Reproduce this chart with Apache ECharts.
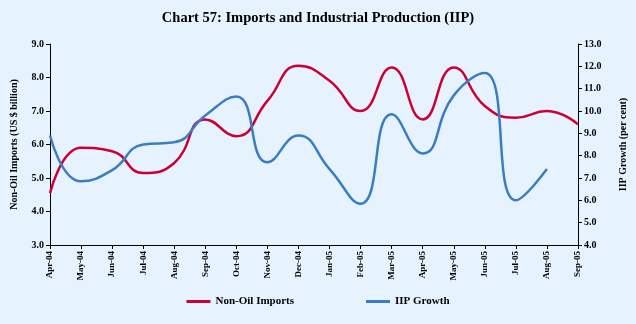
<!DOCTYPE html>
<html><head><meta charset="utf-8">
<script src="https://cdn.jsdelivr.net/npm/echarts@6/dist/echarts.min.js"></script>
<style>html,body{margin:0;padding:0;background:#e6f2fe;}#c{width:636px;height:324px;}</style>
</head><body><div id="c"></div>
<script>
const categories = ["Apr-04","May-04","Jun-04","Jul-04","Aug-04","Sep-04","Oct-04","Nov-04","Dec-04","Jan-05","Feb-05","Mar-05","Apr-05","May-05","Jun-05","Jul-05","Aug-05","Sep-05"];
const nonOilImports = [4.55,5.9,5.8,5.15,5.45,6.75,6.25,7.3,8.35,7.9,7.0,8.3,6.75,8.3,7.15,6.8,7.0,6.6];
const iipGrowth = [8.9,6.85,7.35,8.5,8.6,9.8,10.65,7.7,8.9,7.4,5.85,9.85,8.1,10.7,11.7,6.0,7.4,null];
const leftTicks = {min:3, max:9, interval:1};
const rightTicks = {min:4, max:13, interval:1};

const font = "Liberation Serif";
const chart = echarts.init(document.getElementById('c'));
chart.setOption({
  backgroundColor:'#e6f2fe',
  animation:false,
  title:{text:'Chart 57: Imports and Industrial Production (IIP)',left:'center',top:6,
    textStyle:{fontFamily:font,fontSize:14.5,fontWeight:'bold',color:'#000'}},
  grid:{left:50,right:56,top:44,bottom:79},
  legend:{bottom:12,left:'center',itemGap:72,itemWidth:24,itemHeight:3,icon:'rect',
    textStyle:{fontFamily:font,fontSize:11,fontWeight:'bold',color:'#000'},
    data:['Non-Oil Imports','IIP Growth']},
  xAxis:{type:'category',data:categories,boundaryGap:false,
    axisLine:{lineStyle:{color:'#000',width:1}},
    axisTick:{length:4,lineStyle:{color:'#000'}},
    axisLabel:{rotate:90,fontFamily:font,fontSize:9,fontWeight:'bold',color:'#000',margin:6,interval:0}},
  yAxis:[
    {type:'value',min:leftTicks.min,max:leftTicks.max,interval:leftTicks.interval,
     name:'Non-Oil Imports (US $ billion)',nameLocation:'middle',nameGap:31,nameRotate:90,
     nameTextStyle:{fontFamily:font,fontSize:10,fontWeight:'bold',color:'#000'},
     axisLine:{show:true,lineStyle:{color:'#000'}},axisTick:{show:true,length:4,lineStyle:{color:'#000'}},
     splitLine:{show:false},
     axisLabel:{formatter:v=>v.toFixed(1),fontFamily:font,fontSize:10,fontWeight:'bold',color:'#000',margin:6}},
    {type:'value',min:rightTicks.min,max:rightTicks.max,interval:rightTicks.interval,position:'right',
     name:'IIP Growth (per cent)',nameLocation:'middle',nameGap:40,nameRotate:90,
     nameTextStyle:{fontFamily:font,fontSize:10,fontWeight:'bold',color:'#000'},
     axisLine:{show:true,lineStyle:{color:'#000'}},axisTick:{show:true,length:4,lineStyle:{color:'#000'}},
     splitLine:{show:false},
     axisLabel:{formatter:v=>v.toFixed(1),fontFamily:font,fontSize:10,fontWeight:'bold',color:'#000',margin:6}}
  ],
  series:[
    {name:'Non-Oil Imports',type:'line',data:nonOilImports,yAxisIndex:0,smooth:0.5,showSymbol:false,
     lineStyle:{color:'#cc0033',width:2.5},itemStyle:{color:'#cc0033'}},
    {name:'IIP Growth',type:'line',data:iipGrowth,yAxisIndex:1,smooth:0.5,showSymbol:false,
     lineStyle:{color:'#3b7dc4',width:2.5},itemStyle:{color:'#3b7dc4'}}
  ]
});
</script></body></html>
